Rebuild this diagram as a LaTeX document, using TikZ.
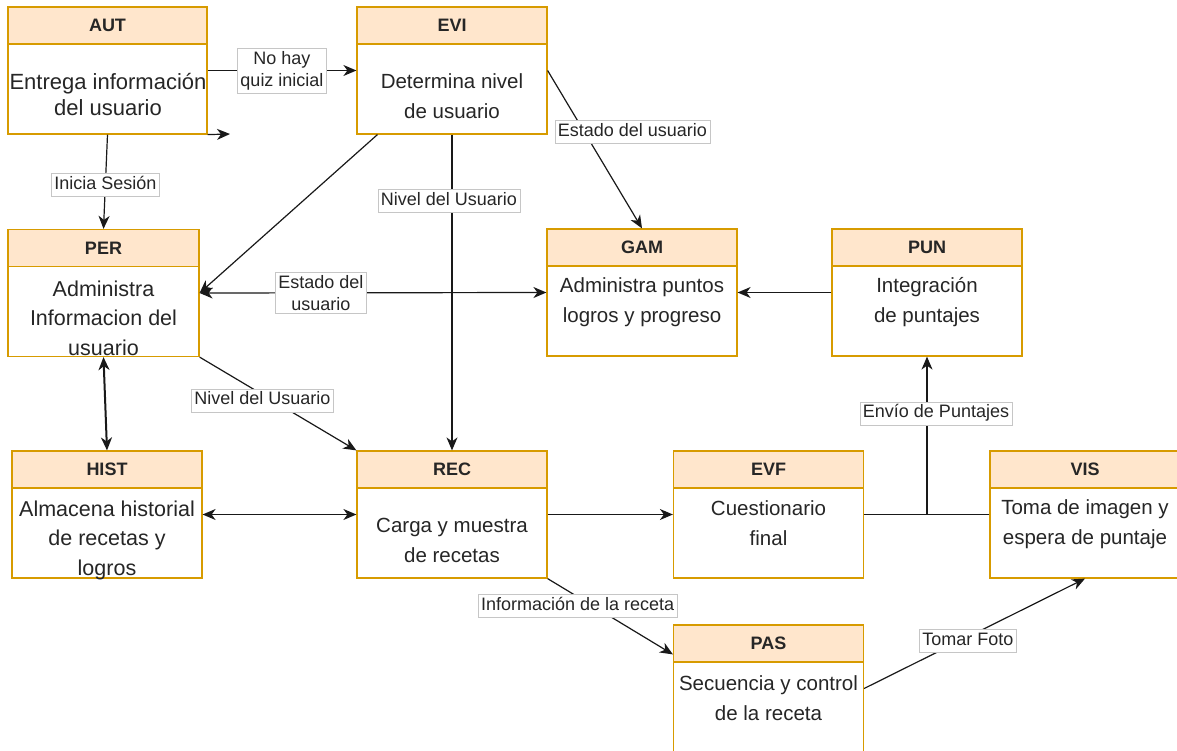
\documentclass[tikz,border=0pt]{standalone}
\usepackage{fontspec}
\setmainfont{Liberation Sans}
\usetikzlibrary{arrows.meta, calc}
\definecolor{modfill}{HTML}{FFE6CC}
\definecolor{modline}{HTML}{D79B00}

\begin{document}
\begin{tikzpicture}[x=1pt, y=-1pt,
  modbox/.style={draw=modline, line width=1.2pt, fill=white, minimum width=190pt, minimum height=127pt, inner sep=0pt},
  modhead/.style={draw=modline, line width=1.2pt, fill=modfill, minimum width=190pt, minimum height=37pt, inner sep=0pt, anchor=north, text=black!85, font=\fontsize{18}{20}\selectfont\bfseries},
  modtext/.style={align=center, text=black!85, inner sep=0pt, font=\fontsize{20.5}{30}\selectfont},
  bigtext/.style={modtext, font=\fontsize{21.5}{29.5}\selectfont},
  arr/.style={-{Stealth[length=13pt, width=11pt, inset=4pt]}, line width=1.2pt, black!90},
  dblarr/.style={{Stealth[length=13pt, width=11pt, inset=4pt]}-{Stealth[length=13pt, width=11pt, inset=4pt]}, line width=1.2pt, black!90},
  lbl/.style={fill=white, draw=gray!45, line width=0.6pt, font=\fontsize{18}{22}\selectfont, text=black!85, inner sep=3pt, align=center},
  lbl1/.style={lbl, text height=13pt, text depth=4pt}
]
\useasboundingbox[fill=white] (0,0) rectangle (1177,751);

% modules
\node[modbox, minimum width=199pt] (aut) at (107.5,70.5) {};
\node[modhead, minimum width=199pt] (aut-h) at (aut.north) {AUT};
\node[bigtext, font=\fontsize{22}{26}\selectfont] (aut-t) at (108,94.5) {Entrega información\\del usuario};

\node[modbox] (evi) at (452,70.5) {};
\node[modhead] (evi-h) at (evi.north) {EVI};
\node[modtext] (evi-t) at (452,96) {Determina nivel\\de usuario};

\node[modbox, minimum width=191pt] (per) at (103.5,293) {};
\node[modhead, minimum width=191pt] (per-h) at (per.north) {PER};
\node[bigtext] (per-t) at (103.5,318) {Administra\\Informacion del\\usuario};

\node[modbox] (gam) at (642,292.5) {};
\node[modhead] (gam-h) at (gam.north) {GAM};
\node[modtext] (gam-t) at (642,302.5) {Administra puntos\\logros y progreso};

\node[modbox] (pun) at (927,292.5) {};
\node[modhead] (pun-h) at (pun.north) {PUN};
\node[modtext] (pun-t) at (927,302.5) {Integración\\de puntajes};

\node[modbox] (hist) at (107,514.5) {};
\node[modhead] (hist-h) at (hist.north) {HIST};
\node[bigtext] (hist-t) at (107,540) {Almacena historial\\de recetas y\\logros};

\node[modbox] (rec) at (452,514.5) {};
\node[modhead] (rec-h) at (rec.north) {REC};
\node[modtext] (rec-t) at (452,540) {Carga y muestra\\de recetas};

\node[modbox] (evf) at (768.5,514.5) {};
\node[modhead] (evf-h) at (evf.north) {EVF};
\node[modtext] (evf-t) at (768.5,523.5) {Cuestionario\\final};

\node[modbox] (vis) at (1085,514.5) {};
\node[modhead] (vis-h) at (vis.north) {VIS};
\node[modtext] (vis-t) at (1085,524) {Toma de imagen y\\espera de puntaje};

\node[modbox] (pas) at (768.5,688.5) {};
\node[modhead] (pas-h) at (pas.north) {PAS};
\node[modtext] (pas-t) at (768.5,698) {Secuencia y control\\de la receta};

% connectors
\coordinate (aut-x) at (230,134);
\draw[arr] (aut.south east) -- (aut-x);
\draw[arr] (aut.east) -- node[lbl] {No hay\\quiz inicial} (evi.west);
\draw[arr] (aut.south) -- node[lbl1, yshift=-3pt] {Inicia Sesión} (per.north);
\draw[arr] ($(evi.south west)!0.11!(evi.south east)$) -- (per.east);
\draw[dblarr] (per.east) -- node[lbl, pos=0.35] {Estado del\\usuario} (gam.west);
\draw[arr] (evi.east) -- node[lbl1, pos=0.38, xshift=49pt, yshift=-1pt] {Estado del usuario} (gam.north);
\draw[arr] (evi.south) -- node[lbl1, pos=0.21, xshift=-3pt] {Nivel del Usuario} (rec.north);
\draw[arr] (per.south east) -- node[lbl1, pos=0.4, yshift=-6pt] {Nivel del Usuario} (rec.north west);
\draw[dblarr, line width=2pt] (per.south) -- (hist.north);
\draw[dblarr] (hist.east) -- (rec.west);
\draw[arr] (rec.east) -- (evf.west);
\draw[line width=1.2pt, black!90] (evf.east) -- (vis.west);
\draw[arr] (vis.west) -| node[lbl1, pos=0.82, xshift=9pt] {Envío de Puntajes} (pun.south);
\draw[arr] (pun.west) -- (gam.east);
\draw[arr] (rec.south east) -- node[lbl1, pos=0.24, yshift=-9pt] {Información de la receta} ($(pas.north west)+(0,30)$);
\draw[arr] (pas.east) -- node[lbl1, pos=0.47, yshift=-4pt] {Tomar Foto} (vis.south);
\end{tikzpicture}
\end{document}
